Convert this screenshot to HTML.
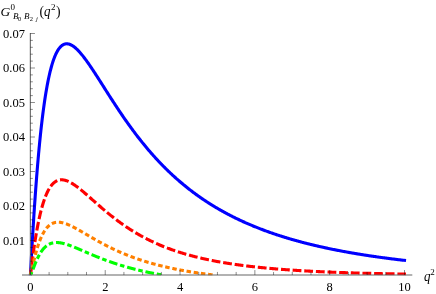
<!DOCTYPE html>
<html><head><meta charset="utf-8"><title>plot</title>
<style>
html,body{margin:0;padding:0;background:#fff;}
body{width:436px;height:294px;overflow:hidden;font-family:"Liberation Serif",serif;}
svg{display:block;}
text{font-family:"Liberation Serif",serif;fill:#000;}
.c{fill:none;stroke-width:3.1;stroke-linejoin:round;}
</style></head><body>
<svg width="436" height="294" viewBox="0 0 436 294">
<rect width="436" height="294" fill="#fff"/>
<defs><clipPath id="cp"><rect x="20" y="20" width="395" height="255.30"/></clipPath></defs>
<g clip-path="url(#cp)">
<path class="c" stroke="#0000ff" stroke-linecap="square" d="M30.40 275.00 L30.59 271.75 L30.78 268.35 L30.97 264.93 L31.16 261.51 L31.35 258.10 L31.54 254.72 L31.73 251.36 L31.92 248.03 L32.11 244.74 L32.30 241.47 L32.49 238.24 L32.68 235.05 L32.87 231.89 L33.06 228.77 L33.25 225.69 L33.44 222.64 L33.63 219.63 L33.82 216.66 L34.01 213.72 L34.20 210.82 L34.39 207.96 L34.58 205.14 L34.78 202.35 L34.97 199.60 L35.16 196.89 L35.35 194.21 L35.54 191.57 L35.73 188.96 L35.92 186.39 L36.11 183.85 L36.30 181.35 L36.49 178.88 L36.68 176.45 L36.87 174.05 L37.06 171.69 L37.25 169.35 L37.44 167.05 L37.63 164.79 L37.82 162.55 L38.01 160.35 L38.20 158.17 L38.39 156.03 L38.58 153.92 L38.77 151.84 L38.96 149.79 L39.15 147.77 L39.34 145.78 L39.53 143.82 L39.72 141.88 L39.91 139.98 L40.10 138.10 L40.29 136.26 L40.48 134.43 L40.67 132.64 L40.86 130.87 L41.05 129.13 L41.24 127.42 L41.43 125.73 L41.62 124.07 L42.23 118.94 L42.83 114.06 L43.44 109.41 L44.05 105.00 L44.65 100.81 L45.26 96.82 L45.86 93.05 L46.47 89.46 L47.08 86.07 L47.68 82.86 L48.29 79.82 L48.89 76.95 L49.50 74.24 L50.10 71.69 L50.71 69.28 L51.32 67.02 L51.92 64.90 L52.53 62.91 L53.13 61.04 L53.74 59.30 L54.34 57.67 L54.95 56.16 L55.56 54.75 L56.16 53.45 L56.77 52.25 L57.37 51.14 L57.98 50.13 L58.59 49.20 L59.19 48.37 L59.80 47.61 L60.40 46.93 L61.01 46.32 L61.61 45.79 L62.22 45.33 L62.83 44.93 L63.43 44.60 L64.04 44.33 L64.64 44.12 L65.25 43.96 L65.86 43.86 L66.46 43.81 L67.07 43.81 L67.67 43.86 L68.28 43.95 L68.88 44.09 L69.49 44.27 L70.10 44.49 L70.70 44.75 L71.31 45.04 L71.91 45.37 L72.52 45.74 L73.12 46.13 L73.73 46.56 L74.34 47.02 L74.94 47.50 L75.55 48.02 L76.15 48.56 L76.76 49.12 L77.37 49.71 L77.97 50.32 L78.58 50.95 L79.18 51.60 L79.79 52.27 L80.39 52.96 L81.00 53.67 L81.61 54.39 L82.21 55.13 L82.82 55.89 L83.42 56.66 L84.03 57.44 L84.64 58.24 L85.24 59.05 L85.85 59.87 L86.45 60.70 L87.06 61.54 L87.66 62.39 L88.27 63.25 L88.88 64.12 L89.48 65.00 L90.09 65.88 L90.69 66.78 L91.30 67.67 L91.90 68.58 L92.51 69.49 L93.12 70.41 L93.72 71.33 L94.33 72.25 L94.93 73.18 L95.54 74.11 L96.15 75.05 L96.75 75.99 L97.36 76.93 L97.96 77.88 L98.57 78.82 L99.17 79.77 L99.78 80.72 L100.39 81.68 L100.99 82.63 L101.60 83.58 L102.20 84.54 L102.81 85.49 L103.42 86.45 L104.02 87.40 L104.63 88.35 L105.23 89.31 L105.84 90.26 L106.44 91.21 L107.05 92.17 L107.66 93.12 L108.26 94.06 L108.87 95.01 L109.47 95.96 L110.08 96.90 L110.68 97.84 L111.29 98.79 L111.90 99.72 L112.50 100.66 L113.11 101.59 L113.71 102.52 L114.32 103.45 L114.93 104.38 L115.53 105.30 L116.14 106.22 L116.74 107.14 L117.35 108.05 L117.95 108.96 L118.56 109.87 L119.17 110.78 L119.77 111.68 L120.38 112.58 L120.98 113.47 L121.59 114.36 L122.20 115.25 L122.80 116.14 L123.41 117.02 L124.01 117.89 L124.62 118.77 L125.22 119.63 L125.83 120.50 L126.44 121.36 L127.04 122.22 L127.65 123.07 L128.25 123.92 L128.86 124.77 L129.46 125.61 L130.07 126.45 L130.68 127.28 L131.28 128.11 L131.89 128.94 L132.49 129.76 L133.10 130.58 L133.71 131.39 L134.31 132.20 L134.92 133.01 L135.52 133.81 L136.13 134.61 L136.73 135.40 L137.34 136.19 L137.95 136.97 L138.55 137.75 L139.16 138.53 L139.76 139.30 L140.37 140.07 L140.97 140.84 L141.58 141.59 L142.19 142.35 L142.79 143.10 L143.40 143.85 L144.00 144.59 L144.61 145.33 L145.22 146.07 L145.82 146.80 L146.43 147.52 L147.03 148.24 L147.64 148.96 L148.24 149.68 L148.85 150.39 L149.46 151.09 L150.06 151.79 L150.67 152.49 L151.27 153.19 L151.88 153.88 L152.49 154.56 L153.09 155.24 L153.70 155.92 L154.30 156.59 L154.91 157.26 L155.51 157.93 L156.12 158.59 L156.73 159.25 L157.33 159.90 L157.94 160.55 L158.54 161.20 L159.15 161.84 L159.75 162.48 L160.36 163.11 L160.97 163.74 L161.57 164.37 L162.18 164.99 L162.78 165.61 L163.39 166.23 L164.00 166.84 L164.60 167.45 L165.21 168.05 L165.81 168.66 L166.42 169.25 L167.02 169.85 L167.63 170.44 L168.24 171.02 L168.84 171.60 L169.45 172.18 L170.05 172.76 L170.66 173.33 L171.27 173.90 L171.87 174.47 L172.48 175.03 L173.08 175.59 L173.69 176.14 L174.29 176.69 L174.90 177.24 L175.51 177.78 L176.11 178.33 L176.72 178.86 L177.32 179.40 L177.93 179.93 L178.53 180.46 L179.14 180.98 L179.75 181.50 L180.35 182.02 L180.96 182.54 L181.56 183.05 L182.17 183.56 L182.78 184.06 L183.38 184.57 L183.99 185.07 L184.59 185.56 L185.20 186.06 L185.80 186.55 L186.41 187.03 L187.02 187.52 L187.62 188.00 L188.23 188.48 L188.83 188.95 L189.44 189.42 L190.05 189.89 L190.65 190.36 L191.26 190.82 L191.86 191.28 L192.47 191.74 L193.07 192.20 L193.68 192.65 L194.29 193.10 L194.89 193.55 L195.50 193.99 L196.10 194.43 L196.71 194.87 L197.31 195.31 L197.92 195.74 L198.53 196.17 L199.13 196.60 L199.74 197.02 L200.34 197.45 L200.95 197.87 L201.56 198.28 L202.16 198.70 L202.77 199.11 L203.37 199.52 L203.98 199.93 L204.58 200.33 L205.19 200.74 L205.80 201.14 L206.40 201.53 L207.01 201.93 L207.61 202.32 L208.22 202.71 L208.83 203.10 L209.43 203.48 L210.04 203.87 L210.64 204.25 L211.25 204.63 L211.85 205.00 L212.46 205.38 L213.07 205.75 L213.67 206.12 L214.28 206.48 L214.88 206.85 L215.49 207.21 L216.09 207.57 L216.70 207.93 L217.31 208.29 L217.91 208.64 L218.52 208.99 L219.12 209.34 L219.73 209.69 L220.34 210.04 L220.94 210.38 L221.55 210.72 L222.15 211.06 L222.76 211.40 L223.36 211.73 L223.97 212.07 L224.58 212.40 L225.18 212.73 L225.79 213.05 L226.39 213.38 L227.00 213.70 L227.61 214.02 L228.21 214.34 L228.82 214.66 L229.42 214.98 L230.03 215.29 L230.63 215.60 L231.24 215.91 L231.85 216.22 L232.45 216.53 L233.06 216.83 L233.66 217.14 L234.27 217.44 L234.87 217.74 L235.48 218.03 L236.09 218.33 L236.69 218.62 L237.30 218.92 L237.90 219.21 L238.51 219.50 L239.12 219.78 L239.72 220.07 L240.33 220.35 L240.93 220.64 L241.54 220.92 L242.14 221.20 L242.75 221.47 L243.36 221.75 L243.96 222.02 L244.57 222.29 L245.17 222.57 L245.78 222.83 L246.38 223.10 L246.99 223.37 L247.60 223.63 L248.20 223.90 L248.81 224.16 L249.41 224.42 L250.02 224.68 L250.63 224.93 L251.23 225.19 L251.84 225.44 L252.44 225.70 L253.05 225.95 L253.65 226.20 L254.26 226.45 L254.87 226.69 L255.47 226.94 L256.08 227.18 L256.68 227.42 L257.29 227.67 L257.90 227.91 L258.50 228.14 L259.11 228.38 L259.71 228.62 L260.32 228.85 L260.92 229.09 L261.53 229.32 L262.14 229.55 L262.74 229.78 L263.35 230.00 L263.95 230.23 L264.56 230.46 L265.16 230.68 L265.77 230.90 L266.38 231.13 L266.98 231.35 L267.59 231.56 L268.19 231.78 L268.80 232.00 L269.41 232.21 L270.01 232.43 L270.62 232.64 L271.22 232.85 L271.83 233.06 L272.43 233.27 L273.04 233.48 L273.65 233.69 L274.25 233.90 L274.86 234.10 L275.46 234.30 L276.07 234.51 L276.68 234.71 L277.28 234.91 L277.89 235.11 L278.49 235.31 L279.10 235.50 L279.70 235.70 L280.31 235.89 L280.92 236.09 L281.52 236.28 L282.13 236.47 L282.73 236.66 L283.34 236.85 L283.94 237.04 L284.55 237.23 L285.16 237.41 L285.76 237.60 L286.37 237.78 L286.97 237.97 L287.58 238.15 L288.19 238.33 L288.79 238.51 L289.40 238.69 L290.00 238.87 L290.61 239.05 L291.21 239.22 L291.82 239.40 L292.43 239.57 L293.03 239.75 L293.64 239.92 L294.24 240.09 L294.85 240.26 L295.46 240.43 L296.06 240.60 L296.67 240.77 L297.27 240.94 L297.88 241.10 L298.48 241.27 L299.09 241.43 L299.70 241.60 L300.30 241.76 L300.91 241.92 L301.51 242.08 L302.12 242.25 L302.72 242.40 L303.33 242.56 L303.94 242.72 L304.54 242.88 L305.15 243.03 L305.75 243.19 L306.36 243.34 L306.97 243.50 L307.57 243.65 L308.18 243.80 L308.78 243.95 L309.39 244.10 L309.99 244.25 L310.60 244.40 L311.21 244.55 L311.81 244.70 L312.42 244.84 L313.02 244.99 L313.63 245.13 L314.24 245.28 L314.84 245.42 L315.45 245.57 L316.05 245.71 L316.66 245.85 L317.26 245.99 L317.87 246.13 L318.48 246.27 L319.08 246.41 L319.69 246.54 L320.29 246.68 L320.90 246.82 L321.50 246.95 L322.11 247.09 L322.72 247.22 L323.32 247.36 L323.93 247.49 L324.53 247.62 L325.14 247.75 L325.75 247.88 L326.35 248.01 L326.96 248.14 L327.56 248.27 L328.17 248.40 L328.77 248.53 L329.38 248.65 L329.99 248.78 L330.59 248.90 L331.20 249.03 L331.80 249.15 L332.41 249.28 L333.02 249.40 L333.62 249.52 L334.23 249.64 L334.83 249.76 L335.44 249.89 L336.04 250.01 L336.65 250.12 L337.26 250.24 L337.86 250.36 L338.47 250.48 L339.07 250.60 L339.68 250.71 L340.28 250.83 L340.89 250.94 L341.50 251.06 L342.10 251.17 L342.71 251.28 L343.31 251.40 L343.92 251.51 L344.53 251.62 L345.13 251.73 L345.74 251.84 L346.34 251.95 L346.95 252.06 L347.55 252.17 L348.16 252.28 L348.77 252.39 L349.37 252.50 L349.98 252.60 L350.58 252.71 L351.19 252.82 L351.79 252.92 L352.40 253.03 L353.01 253.13 L353.61 253.23 L354.22 253.34 L354.82 253.44 L355.43 253.54 L356.04 253.64 L356.64 253.74 L357.25 253.85 L357.85 253.95 L358.46 254.05 L359.06 254.14 L359.67 254.24 L360.28 254.34 L360.88 254.44 L361.49 254.54 L362.09 254.63 L362.70 254.73 L363.31 254.83 L363.91 254.92 L364.52 255.02 L365.12 255.11 L365.73 255.21 L366.33 255.30 L366.94 255.39 L367.55 255.48 L368.15 255.58 L368.76 255.67 L369.36 255.76 L369.97 255.85 L370.57 255.94 L371.18 256.03 L371.79 256.12 L372.39 256.21 L373.00 256.30 L373.60 256.39 L374.21 256.48 L374.82 256.56 L375.42 256.65 L376.03 256.74 L376.63 256.82 L377.24 256.91 L377.84 257.00 L378.45 257.08 L379.06 257.17 L379.66 257.25 L380.27 257.33 L380.87 257.42 L381.48 257.50 L382.09 257.58 L382.69 257.67 L383.30 257.75 L383.90 257.83 L384.51 257.91 L385.11 257.99 L385.72 258.07 L386.33 258.15 L386.93 258.23 L387.54 258.31 L388.14 258.39 L388.75 258.47 L389.35 258.55 L389.96 258.62 L390.57 258.70 L391.17 258.78 L391.78 258.86 L392.38 258.93 L392.99 259.01 L393.60 259.08 L394.20 259.16 L394.81 259.23 L395.41 259.31 L396.02 259.38 L396.62 259.46 L397.23 259.53 L397.84 259.60 L398.44 259.68 L399.05 259.75 L399.65 259.82 L400.26 259.89 L400.87 259.97 L401.47 260.04 L402.08 260.11 L402.68 260.18 L403.29 260.25 L403.89 260.32 L404.50 260.39"/>
<path class="c" stroke="#ff0000" stroke-dasharray="8.8 2.85" stroke-dashoffset="1.63" d="M30.40 275.00 L30.59 273.59 L30.78 272.10 L30.97 270.60 L31.16 269.08 L31.35 267.57 L31.54 266.07 L31.73 264.57 L31.92 263.09 L32.11 261.62 L32.30 260.17 L32.49 258.73 L32.68 257.30 L32.87 255.89 L33.06 254.50 L33.25 253.12 L33.44 251.76 L33.63 250.42 L33.82 249.10 L34.01 247.79 L34.20 246.50 L34.39 245.22 L34.58 243.96 L34.78 242.72 L34.97 241.50 L35.16 240.29 L35.35 239.11 L35.54 237.93 L35.73 236.78 L35.92 235.64 L36.11 234.51 L36.30 233.41 L36.49 232.32 L36.68 231.24 L36.87 230.18 L37.06 229.14 L37.25 228.11 L37.44 227.10 L37.63 226.10 L37.82 225.12 L38.01 224.16 L38.20 223.20 L38.39 222.27 L38.58 221.35 L38.77 220.44 L38.96 219.54 L39.15 218.67 L39.34 217.80 L39.53 216.95 L39.72 216.11 L39.91 215.29 L40.10 214.48 L40.29 213.68 L40.48 212.90 L40.67 212.12 L40.86 211.37 L41.05 210.62 L41.24 209.89 L41.43 209.17 L41.62 208.46 L42.23 206.28 L42.83 204.22 L43.44 202.28 L44.05 200.44 L44.65 198.71 L45.26 197.08 L45.86 195.55 L46.47 194.11 L47.08 192.76 L47.68 191.50 L48.29 190.32 L48.89 189.22 L49.50 188.20 L50.10 187.25 L50.71 186.37 L51.32 185.56 L51.92 184.81 L52.53 184.13 L53.13 183.50 L53.74 182.94 L54.34 182.42 L54.95 181.96 L55.56 181.55 L56.16 181.19 L56.77 180.88 L57.37 180.60 L57.98 180.37 L58.59 180.18 L59.19 180.03 L59.80 179.92 L60.40 179.84 L61.01 179.80 L61.61 179.79 L62.22 179.80 L62.83 179.85 L63.43 179.93 L64.04 180.03 L64.64 180.16 L65.25 180.31 L65.86 180.49 L66.46 180.69 L67.07 180.91 L67.67 181.15 L68.28 181.41 L68.88 181.69 L69.49 181.98 L70.10 182.29 L70.70 182.62 L71.31 182.96 L71.91 183.32 L72.52 183.69 L73.12 184.07 L73.73 184.46 L74.34 184.87 L74.94 185.28 L75.55 185.71 L76.15 186.14 L76.76 186.58 L77.37 187.04 L77.97 187.50 L78.58 187.96 L79.18 188.44 L79.79 188.92 L80.39 189.40 L81.00 189.90 L81.61 190.39 L82.21 190.90 L82.82 191.40 L83.42 191.91 L84.03 192.43 L84.64 192.94 L85.24 193.46 L85.85 193.99 L86.45 194.51 L87.06 195.04 L87.66 195.57 L88.27 196.10 L88.88 196.63 L89.48 197.17 L90.09 197.70 L90.69 198.24 L91.30 198.77 L91.90 199.31 L92.51 199.85 L93.12 200.38 L93.72 200.92 L94.33 201.45 L94.93 201.99 L95.54 202.52 L96.15 203.06 L96.75 203.59 L97.36 204.12 L97.96 204.65 L98.57 205.18 L99.17 205.71 L99.78 206.24 L100.39 206.76 L100.99 207.28 L101.60 207.81 L102.20 208.33 L102.81 208.84 L103.42 209.36 L104.02 209.87 L104.63 210.38 L105.23 210.89 L105.84 211.40 L106.44 211.90 L107.05 212.40 L107.66 212.90 L108.26 213.40 L108.87 213.89 L109.47 214.38 L110.08 214.87 L110.68 215.35 L111.29 215.84 L111.90 216.32 L112.50 216.79 L113.11 217.27 L113.71 217.74 L114.32 218.21 L114.93 218.67 L115.53 219.14 L116.14 219.60 L116.74 220.05 L117.35 220.51 L117.95 220.96 L118.56 221.40 L119.17 221.85 L119.77 222.29 L120.38 222.73 L120.98 223.16 L121.59 223.60 L122.20 224.03 L122.80 224.45 L123.41 224.87 L124.01 225.29 L124.62 225.71 L125.22 226.12 L125.83 226.54 L126.44 226.94 L127.04 227.35 L127.65 227.75 L128.25 228.15 L128.86 228.54 L129.46 228.93 L130.07 229.32 L130.68 229.71 L131.28 230.09 L131.89 230.47 L132.49 230.85 L133.10 231.22 L133.71 231.60 L134.31 231.96 L134.92 232.33 L135.52 232.69 L136.13 233.05 L136.73 233.41 L137.34 233.76 L137.95 234.11 L138.55 234.46 L139.16 234.81 L139.76 235.15 L140.37 235.49 L140.97 235.82 L141.58 236.16 L142.19 236.49 L142.79 236.82 L143.40 237.14 L144.00 237.46 L144.61 237.78 L145.22 238.10 L145.82 238.42 L146.43 238.73 L147.03 239.04 L147.64 239.35 L148.24 239.65 L148.85 239.95 L149.46 240.25 L150.06 240.55 L150.67 240.84 L151.27 241.13 L151.88 241.42 L152.49 241.71 L153.09 241.99 L153.70 242.27 L154.30 242.55 L154.91 242.83 L155.51 243.10 L156.12 243.37 L156.73 243.64 L157.33 243.91 L157.94 244.18 L158.54 244.44 L159.15 244.70 L159.75 244.96 L160.36 245.21 L160.97 245.47 L161.57 245.72 L162.18 245.97 L162.78 246.21 L163.39 246.46 L164.00 246.70 L164.60 246.94 L165.21 247.18 L165.81 247.42 L166.42 247.65 L167.02 247.88 L167.63 248.12 L168.24 248.34 L168.84 248.57 L169.45 248.79 L170.05 249.02 L170.66 249.24 L171.27 249.46 L171.87 249.67 L172.48 249.89 L173.08 250.10 L173.69 250.31 L174.29 250.52 L174.90 250.73 L175.51 250.93 L176.11 251.14 L176.72 251.34 L177.32 251.54 L177.93 251.74 L178.53 251.93 L179.14 252.13 L179.75 252.32 L180.35 252.51 L180.96 252.70 L181.56 252.89 L182.17 253.07 L182.78 253.26 L183.38 253.44 L183.99 253.62 L184.59 253.80 L185.20 253.98 L185.80 254.16 L186.41 254.33 L187.02 254.51 L187.62 254.68 L188.23 254.85 L188.83 255.02 L189.44 255.19 L190.05 255.35 L190.65 255.52 L191.26 255.68 L191.86 255.84 L192.47 256.00 L193.07 256.16 L193.68 256.32 L194.29 256.48 L194.89 256.63 L195.50 256.79 L196.10 256.94 L196.71 257.09 L197.31 257.24 L197.92 257.39 L198.53 257.53 L199.13 257.68 L199.74 257.82 L200.34 257.97 L200.95 258.11 L201.56 258.25 L202.16 258.39 L202.77 258.53 L203.37 258.66 L203.98 258.80 L204.58 258.94 L205.19 259.07 L205.80 259.20 L206.40 259.33 L207.01 259.46 L207.61 259.59 L208.22 259.72 L208.83 259.85 L209.43 259.97 L210.04 260.10 L210.64 260.22 L211.25 260.34 L211.85 260.46 L212.46 260.58 L213.07 260.70 L213.67 260.82 L214.28 260.94 L214.88 261.06 L215.49 261.17 L216.09 261.28 L216.70 261.40 L217.31 261.51 L217.91 261.62 L218.52 261.73 L219.12 261.84 L219.73 261.95 L220.34 262.06 L220.94 262.16 L221.55 262.27 L222.15 262.37 L222.76 262.48 L223.36 262.58 L223.97 262.68 L224.58 262.79 L225.18 262.89 L225.79 262.99 L226.39 263.08 L227.00 263.18 L227.61 263.28 L228.21 263.38 L228.82 263.47 L229.42 263.57 L230.03 263.66 L230.63 263.75 L231.24 263.84 L231.85 263.94 L232.45 264.03 L233.06 264.12 L233.66 264.21 L234.27 264.29 L234.87 264.38 L235.48 264.47 L236.09 264.56 L236.69 264.64 L237.30 264.73 L237.90 264.81 L238.51 264.89 L239.12 264.98 L239.72 265.06 L240.33 265.14 L240.93 265.22 L241.54 265.30 L242.14 265.38 L242.75 265.46 L243.36 265.54 L243.96 265.61 L244.57 265.69 L245.17 265.77 L245.78 265.84 L246.38 265.92 L246.99 265.99 L247.60 266.06 L248.20 266.14 L248.81 266.21 L249.41 266.28 L250.02 266.35 L250.63 266.42 L251.23 266.49 L251.84 266.56 L252.44 266.63 L253.05 266.70 L253.65 266.77 L254.26 266.83 L254.87 266.90 L255.47 266.97 L256.08 267.03 L256.68 267.10 L257.29 267.16 L257.90 267.22 L258.50 267.29 L259.11 267.35 L259.71 267.41 L260.32 267.47 L260.92 267.54 L261.53 267.60 L262.14 267.66 L262.74 267.72 L263.35 267.78 L263.95 267.83 L264.56 267.89 L265.16 267.95 L265.77 268.01 L266.38 268.07 L266.98 268.12 L267.59 268.18 L268.19 268.23 L268.80 268.29 L269.41 268.34 L270.01 268.40 L270.62 268.45 L271.22 268.50 L271.83 268.56 L272.43 268.61 L273.04 268.66 L273.65 268.71 L274.25 268.77 L274.86 268.82 L275.46 268.87 L276.07 268.92 L276.68 268.97 L277.28 269.02 L277.89 269.06 L278.49 269.11 L279.10 269.16 L279.70 269.21 L280.31 269.26 L280.92 269.30 L281.52 269.35 L282.13 269.40 L282.73 269.44 L283.34 269.49 L283.94 269.53 L284.55 269.58 L285.16 269.62 L285.76 269.67 L286.37 269.71 L286.97 269.75 L287.58 269.79 L288.19 269.84 L288.79 269.88 L289.40 269.92 L290.00 269.96 L290.61 270.00 L291.21 270.05 L291.82 270.09 L292.43 270.13 L293.03 270.17 L293.64 270.21 L294.24 270.25 L294.85 270.29 L295.46 270.32 L296.06 270.36 L296.67 270.40 L297.27 270.44 L297.88 270.48 L298.48 270.51 L299.09 270.55 L299.70 270.59 L300.30 270.62 L300.91 270.66 L301.51 270.70 L302.12 270.73 L302.72 270.77 L303.33 270.80 L303.94 270.84 L304.54 270.87 L305.15 270.90 L305.75 270.94 L306.36 270.97 L306.97 271.01 L307.57 271.04 L308.18 271.07 L308.78 271.10 L309.39 271.14 L309.99 271.17 L310.60 271.20 L311.21 271.23 L311.81 271.26 L312.42 271.29 L313.02 271.33 L313.63 271.36 L314.24 271.39 L314.84 271.42 L315.45 271.45 L316.05 271.48 L316.66 271.51 L317.26 271.54 L317.87 271.56 L318.48 271.59 L319.08 271.62 L319.69 271.65 L320.29 271.68 L320.90 271.71 L321.50 271.73 L322.11 271.76 L322.72 271.79 L323.32 271.82 L323.93 271.84 L324.53 271.87 L325.14 271.90 L325.75 271.92 L326.35 271.95 L326.96 271.98 L327.56 272.00 L328.17 272.03 L328.77 272.05 L329.38 272.08 L329.99 272.10 L330.59 272.13 L331.20 272.15 L331.80 272.18 L332.41 272.20 L333.02 272.22 L333.62 272.25 L334.23 272.27 L334.83 272.29 L335.44 272.32 L336.04 272.34 L336.65 272.36 L337.26 272.39 L337.86 272.41 L338.47 272.43 L339.07 272.45 L339.68 272.48 L340.28 272.50 L340.89 272.52 L341.50 272.54 L342.10 272.56 L342.71 272.58 L343.31 272.61 L343.92 272.63 L344.53 272.65 L345.13 272.67 L345.74 272.69 L346.34 272.71 L346.95 272.73 L347.55 272.75 L348.16 272.77 L348.77 272.79 L349.37 272.81 L349.98 272.83 L350.58 272.85 L351.19 272.87 L351.79 272.88 L352.40 272.90 L353.01 272.92 L353.61 272.94 L354.22 272.96 L354.82 272.98 L355.43 273.00 L356.04 273.01 L356.64 273.03 L357.25 273.05 L357.85 273.07 L358.46 273.08 L359.06 273.10 L359.67 273.12 L360.28 273.14 L360.88 273.15 L361.49 273.17 L362.09 273.19 L362.70 273.20 L363.31 273.22 L363.91 273.24 L364.52 273.25 L365.12 273.27 L365.73 273.29 L366.33 273.30 L366.94 273.32 L367.55 273.33 L368.15 273.35 L368.76 273.36 L369.36 273.38 L369.97 273.39 L370.57 273.41 L371.18 273.42 L371.79 273.44 L372.39 273.45 L373.00 273.47 L373.60 273.48 L374.21 273.50 L374.82 273.51 L375.42 273.53 L376.03 273.54 L376.63 273.55 L377.24 273.57 L377.84 273.58 L378.45 273.60 L379.06 273.61 L379.66 273.62 L380.27 273.64 L380.87 273.65 L381.48 273.66 L382.09 273.68 L382.69 273.69 L383.30 273.70 L383.90 273.72 L384.51 273.73 L385.11 273.74 L385.72 273.75 L386.33 273.77 L386.93 273.78 L387.54 273.79 L388.14 273.80 L388.75 273.81 L389.35 273.83 L389.96 273.84 L390.57 273.85 L391.17 273.86 L391.78 273.87 L392.38 273.89 L392.99 273.90 L393.60 273.91 L394.20 273.92 L394.81 273.93 L395.41 273.94 L396.02 273.95 L396.62 273.96 L397.23 273.98 L397.84 273.99 L398.44 274.00 L399.05 274.01 L399.65 274.02 L400.26 274.03 L400.87 274.04 L401.47 274.05 L402.08 274.06 L402.68 274.07 L403.29 274.08 L403.89 274.09 L404.50 274.10 L406.00 274.13"/>
<path class="c" stroke="#ff8000" stroke-dasharray="4.5 2.75" stroke-dashoffset="1.11" d="M30.40 275.00 L30.59 274.47 L30.78 273.80 L30.97 273.06 L31.16 272.29 L31.35 271.50 L31.54 270.69 L31.73 269.88 L31.92 269.05 L32.11 268.22 L32.30 267.39 L32.49 266.56 L32.68 265.74 L32.87 264.91 L33.06 264.09 L33.25 263.28 L33.44 262.47 L33.63 261.67 L33.82 260.88 L34.01 260.09 L34.20 259.31 L34.39 258.54 L34.58 257.78 L34.78 257.03 L34.97 256.28 L35.16 255.55 L35.35 254.83 L35.54 254.11 L35.73 253.41 L35.92 252.71 L36.11 252.03 L36.30 251.35 L36.49 250.69 L36.68 250.03 L36.87 249.38 L37.06 248.75 L37.25 248.12 L37.44 247.51 L37.63 246.90 L37.82 246.31 L38.01 245.72 L38.20 245.14 L38.39 244.57 L38.58 244.02 L38.77 243.47 L38.96 242.93 L39.15 242.40 L39.34 241.88 L39.53 241.37 L39.72 240.87 L39.91 240.38 L40.10 239.89 L40.29 239.42 L40.48 238.95 L40.67 238.50 L40.86 238.05 L41.05 237.61 L41.24 237.18 L41.43 236.75 L41.62 236.34 L41.91 235.73 L42.20 235.14 L42.48 234.56 L42.77 234.00 L43.06 233.46 L43.35 232.94 L43.63 232.43 L43.92 231.94 L44.21 231.47 L44.49 231.01 L44.78 230.57 L45.07 230.14 L45.36 229.73 L45.64 229.33 L45.93 228.94 L46.22 228.57 L46.50 228.21 L46.79 227.87 L47.08 227.54 L47.37 227.22 L47.65 226.91 L47.94 226.62 L48.23 226.33 L48.51 226.06 L48.80 225.80 L49.09 225.56 L49.38 225.32 L49.66 225.09 L49.95 224.88 L50.24 224.67 L50.52 224.47 L50.81 224.29 L51.10 224.11 L51.39 223.94 L51.67 223.78 L51.96 223.63 L52.25 223.49 L52.53 223.36 L52.82 223.24 L53.11 223.12 L53.40 223.01 L53.68 222.91 L53.97 222.82 L54.26 222.73 L54.54 222.65 L54.83 222.58 L55.12 222.52 L55.41 222.46 L55.69 222.41 L55.98 222.36 L56.27 222.33 L56.55 222.29 L56.84 222.27 L57.13 222.24 L57.42 222.23 L57.70 222.22 L57.99 222.21 L58.28 222.22 L58.56 222.22 L58.85 222.23 L59.14 222.25 L59.43 222.27 L59.71 222.29 L60.00 222.32 L60.29 222.36 L60.57 222.40 L60.86 222.44 L61.15 222.48 L61.44 222.53 L61.72 222.59 L62.01 222.65 L62.30 222.71 L62.58 222.77 L62.87 222.84 L63.16 222.91 L63.45 222.99 L63.73 223.07 L64.02 223.15 L64.31 223.24 L64.59 223.32 L64.88 223.41 L65.17 223.51 L65.46 223.60 L65.74 223.70 L66.03 223.80 L66.32 223.91 L66.60 224.01 L66.89 224.12 L67.18 224.23 L67.47 224.35 L67.75 224.46 L68.04 224.58 L68.33 224.70 L68.61 224.82 L68.90 224.95 L69.19 225.07 L69.48 225.20 L69.76 225.33 L70.05 225.46 L70.34 225.59 L70.62 225.72 L70.91 225.86 L71.20 226.00 L71.49 226.14 L71.77 226.28 L72.06 226.42 L72.35 226.56 L72.63 226.70 L72.92 226.85 L73.21 226.99 L73.50 227.14 L73.78 227.29 L74.07 227.44 L74.36 227.59 L74.64 227.74 L74.93 227.90 L75.22 228.05 L75.51 228.20 L75.79 228.36 L76.08 228.51 L76.37 228.67 L76.66 228.83 L76.94 228.99 L77.23 229.15 L77.52 229.31 L77.80 229.47 L78.09 229.63 L78.38 229.79 L78.67 229.95 L78.95 230.11 L79.24 230.28 L79.53 230.44 L79.81 230.60 L80.10 230.77 L80.39 230.93 L80.68 231.10 L80.96 231.26 L81.25 231.43 L81.54 231.59 L81.82 231.76 L82.11 231.93 L82.40 232.09 L82.69 232.26 L82.97 232.43 L83.26 232.60 L83.55 232.76 L83.83 232.93 L84.12 233.10 L84.41 233.27 L84.70 233.44 L84.98 233.60 L85.27 233.77 L85.56 233.94 L85.84 234.11 L86.13 234.28 L86.42 234.45 L86.71 234.61 L86.99 234.78 L87.28 234.95 L87.57 235.12 L87.85 235.29 L88.14 235.46 L88.43 235.62 L88.72 235.79 L89.00 235.96 L89.29 236.13 L89.58 236.30 L89.86 236.46 L90.15 236.63 L90.44 236.80 L90.73 236.96 L91.01 237.13 L91.30 237.30 L91.59 237.46 L91.87 237.63 L92.16 237.80 L92.45 237.96 L92.74 238.13 L93.02 238.29 L93.31 238.46 L93.60 238.62 L93.88 238.79 L94.17 238.95 L94.46 239.11 L94.75 239.28 L95.03 239.44 L95.32 239.60 L95.61 239.77 L95.89 239.93 L96.18 240.09 L96.47 240.25 L96.76 240.41 L97.04 240.58 L97.33 240.74 L97.62 240.90 L97.90 241.06 L98.19 241.22 L98.48 241.37 L98.77 241.53 L99.05 241.69 L99.34 241.85 L99.63 242.01 L99.91 242.17 L100.20 242.32 L100.49 242.48 L100.78 242.64 L101.06 242.79 L101.35 242.95 L101.64 243.10 L101.92 243.26 L102.21 243.41 L102.50 243.56 L102.79 243.72 L103.07 243.87 L103.36 244.02 L103.65 244.17 L103.93 244.33 L104.22 244.48 L104.51 244.63 L104.80 244.78 L105.08 244.93 L105.37 245.08 L105.66 245.23 L105.94 245.38 L106.23 245.52 L106.52 245.67 L106.81 245.82 L107.09 245.97 L107.38 246.11 L107.67 246.26 L107.95 246.40 L108.24 246.55 L108.53 246.69 L108.82 246.84 L109.10 246.98 L109.39 247.12 L109.68 247.27 L109.96 247.41 L110.25 247.55 L110.54 247.69 L110.83 247.83 L111.11 247.97 L111.40 248.11 L111.69 248.25 L111.97 248.39 L112.26 248.53 L112.55 248.67 L112.84 248.80 L113.12 248.94 L113.41 249.08 L113.70 249.21 L113.98 249.35 L114.27 249.48 L114.56 249.62 L114.85 249.75 L115.13 249.89 L115.42 250.02 L115.71 250.15 L115.99 250.29 L116.28 250.42 L116.57 250.55 L116.86 250.68 L117.14 250.81 L117.43 250.94 L117.72 251.07 L118.00 251.20 L118.29 251.33 L118.58 251.46 L118.87 251.58 L119.15 251.71 L119.44 251.84 L119.73 251.96 L120.01 252.09 L120.30 252.21 L120.59 252.34 L120.88 252.46 L121.16 252.59 L121.45 252.71 L121.74 252.83 L122.02 252.96 L122.31 253.08 L122.60 253.20 L122.89 253.32 L123.17 253.44 L123.46 253.56 L123.75 253.68 L124.03 253.80 L124.32 253.92 L124.61 254.04 L124.90 254.16 L125.18 254.28 L125.47 254.39 L125.76 254.51 L126.04 254.63 L126.33 254.74 L126.62 254.86 L126.91 254.97 L127.19 255.09 L127.48 255.20 L127.77 255.31 L128.05 255.43 L128.34 255.54 L128.63 255.65 L128.92 255.76 L129.20 255.88 L129.49 255.99 L129.78 256.10 L130.06 256.21 L130.35 256.32 L130.64 256.43 L130.93 256.54 L131.21 256.64 L131.50 256.75 L131.79 256.86 L132.07 256.97 L132.36 257.07 L132.65 257.18 L132.94 257.29 L133.22 257.39 L133.51 257.50 L133.80 257.60 L134.08 257.70 L134.37 257.81 L134.66 257.91 L134.95 258.01 L135.23 258.12 L135.52 258.22 L135.81 258.32 L136.09 258.42 L136.38 258.52 L136.67 258.62 L136.96 258.72 L137.24 258.82 L137.53 258.92 L137.82 259.02 L138.10 259.12 L138.39 259.22 L138.68 259.32 L138.97 259.41 L139.25 259.51 L139.54 259.61 L139.83 259.70 L140.11 259.80 L140.40 259.90 L140.69 259.99 L140.98 260.09 L141.26 260.18 L141.55 260.27 L141.84 260.37 L142.12 260.46 L142.41 260.55 L142.70 260.65 L142.99 260.74 L143.27 260.83 L143.56 260.92 L143.85 261.01 L144.13 261.10 L144.42 261.19 L144.71 261.28 L145.00 261.37 L145.28 261.46 L145.57 261.55 L145.86 261.64 L146.14 261.73 L146.43 261.81 L146.72 261.90 L147.01 261.99 L147.29 262.07 L147.58 262.16 L147.87 262.25 L148.15 262.33 L148.44 262.42 L148.73 262.50 L149.02 262.59 L149.30 262.67 L149.59 262.75 L149.88 262.84 L150.16 262.92 L150.45 263.00 L150.74 263.09 L151.03 263.17 L151.31 263.25 L151.60 263.33 L151.89 263.41 L152.17 263.49 L152.46 263.57 L152.75 263.65 L153.04 263.73 L153.32 263.81 L153.61 263.89 L153.90 263.97 L154.18 264.05 L154.47 264.13 L154.76 264.21 L155.05 264.28 L155.33 264.36 L155.62 264.44 L155.91 264.51 L156.19 264.59 L156.48 264.67 L156.77 264.74 L157.06 264.82 L157.34 264.89 L157.63 264.97 L157.92 265.04 L158.20 265.12 L158.49 265.19 L158.78 265.26 L159.07 265.34 L159.35 265.41 L159.64 265.48 L159.93 265.55 L160.21 265.63 L160.50 265.70 L160.79 265.77 L161.08 265.84 L161.36 265.91 L161.65 265.98 L161.94 266.05 L162.22 266.12 L162.51 266.19 L162.80 266.26 L163.09 266.33 L163.37 266.40 L163.66 266.47 L163.95 266.54 L164.24 266.60 L164.52 266.67 L164.81 266.74 L165.10 266.81 L165.38 266.87 L165.67 266.94 L165.96 267.01 L166.25 267.07 L166.53 267.14 L166.82 267.20 L167.11 267.27 L167.39 267.33 L167.68 267.40 L167.97 267.46 L168.26 267.53 L168.54 267.59 L168.83 267.65 L169.12 267.72 L169.40 267.78 L169.69 267.84 L169.98 267.91 L170.27 267.97 L170.55 268.03 L170.84 268.09 L171.13 268.15 L171.41 268.22 L171.70 268.28 L171.99 268.34 L172.28 268.40 L172.56 268.46 L172.85 268.52 L173.14 268.58 L173.42 268.64 L173.71 268.70 L174.00 268.76 L174.29 268.82 L174.57 268.88 L174.86 268.93 L175.15 268.99 L175.43 269.05 L175.72 269.11 L176.01 269.17 L176.30 269.22 L176.58 269.28 L176.87 269.34 L177.16 269.39 L177.44 269.45 L177.73 269.51 L178.02 269.56 L178.31 269.62 L178.59 269.67 L178.88 269.73 L179.17 269.78 L179.45 269.84 L179.74 269.89 L180.03 269.95 L180.32 270.00 L180.60 270.05 L180.89 270.11 L181.18 270.16 L181.46 270.21 L181.75 270.27 L182.04 270.32 L182.33 270.37 L182.61 270.43 L182.90 270.48 L183.19 270.53 L183.47 270.58 L183.76 270.63 L184.05 270.68 L184.34 270.74 L184.62 270.79 L184.91 270.84 L185.20 270.89 L185.48 270.94 L185.77 270.99 L186.06 271.04 L186.35 271.09 L186.63 271.14 L186.92 271.19 L187.21 271.23 L187.49 271.28 L187.78 271.33 L188.07 271.38 L188.36 271.43 L188.64 271.48 L188.93 271.53 L189.22 271.57 L189.50 271.62 L189.79 271.67 L190.08 271.71 L190.37 271.76 L190.65 271.81 L190.94 271.86 L191.23 271.90 L191.51 271.95 L191.80 271.99 L192.09 272.04 L192.38 272.09 L192.66 272.13 L192.95 272.18 L193.24 272.22 L193.52 272.27 L193.81 272.31 L194.10 272.35 L194.39 272.40 L194.67 272.44 L194.96 272.49 L195.25 272.53 L195.53 272.57 L195.82 272.62 L196.11 272.66 L196.40 272.70 L196.68 272.75 L196.97 272.79 L197.26 272.83 L197.54 272.88 L197.83 272.92 L198.12 272.96 L198.41 273.00 L198.69 273.04 L198.98 273.09 L199.27 273.13 L199.55 273.17 L199.84 273.21 L200.13 273.25 L200.42 273.29 L200.70 273.33 L200.99 273.37 L201.28 273.41 L201.56 273.45 L201.85 273.49 L202.14 273.53 L202.43 273.57 L202.71 273.61 L203.00 273.65 L203.29 273.69 L203.57 273.73 L203.86 273.77 L204.15 273.81 L204.44 273.84 L204.72 273.88 L205.01 273.92 L205.30 273.96 L205.58 274.00 L205.87 274.03 L206.16 274.07 L206.45 274.11 L206.73 274.15 L207.02 274.18 L207.31 274.22 L207.59 274.26 L207.88 274.30 L208.17 274.33 L208.46 274.37 L208.74 274.40 L209.03 274.44 L209.32 274.48 L209.60 274.51 L209.89 274.55 L210.18 274.58 L210.47 274.62 L210.75 274.65 L211.04 274.69 L211.33 274.72 L211.61 274.76 L211.90 274.79 L212.19 274.83 L212.48 274.86 L212.76 274.90 L213.05 274.93 L213.34 274.97 L213.62 275.00 L215.11 275.18"/>
<path class="c" stroke="#00ff00" stroke-dasharray="4.5 2.84 8.7 2.84" stroke-dashoffset="1.2" d="M30.40 275.00 L30.59 274.80 L30.78 274.51 L30.97 274.15 L31.16 273.77 L31.35 273.35 L31.54 272.92 L31.73 272.46 L31.92 272.00 L32.11 271.53 L32.30 271.05 L32.49 270.56 L32.68 270.07 L32.87 269.57 L33.06 269.08 L33.25 268.58 L33.44 268.09 L33.63 267.59 L33.82 267.10 L34.01 266.60 L34.20 266.12 L34.39 265.63 L34.58 265.15 L34.78 264.67 L34.97 264.19 L35.16 263.72 L35.35 263.26 L35.54 262.80 L35.73 262.34 L35.92 261.89 L36.11 261.45 L36.30 261.01 L36.49 260.58 L36.68 260.15 L36.87 259.73 L37.06 259.31 L37.25 258.90 L37.44 258.50 L37.63 258.10 L37.82 257.71 L38.01 257.32 L38.20 256.94 L38.39 256.57 L38.58 256.20 L38.77 255.84 L38.96 255.49 L39.15 255.14 L39.34 254.80 L39.53 254.46 L39.72 254.13 L39.91 253.81 L40.10 253.49 L40.29 253.18 L40.48 252.87 L40.67 252.57 L40.86 252.27 L41.05 251.98 L41.24 251.70 L41.43 251.42 L41.62 251.15 L41.82 250.87 L42.03 250.59 L42.23 250.32 L42.43 250.05 L42.63 249.80 L42.83 249.54 L43.03 249.30 L43.24 249.06 L43.44 248.82 L43.64 248.59 L43.84 248.37 L44.04 248.15 L44.24 247.93 L44.45 247.73 L44.65 247.52 L44.85 247.33 L45.05 247.13 L45.25 246.95 L45.45 246.76 L45.66 246.59 L45.86 246.41 L46.06 246.24 L46.26 246.08 L46.46 245.92 L46.66 245.77 L46.87 245.62 L47.07 245.47 L47.27 245.33 L47.47 245.20 L47.67 245.06 L47.87 244.93 L48.08 244.81 L48.28 244.69 L48.48 244.57 L48.68 244.46 L48.88 244.35 L49.08 244.25 L49.28 244.15 L49.49 244.05 L49.69 243.96 L49.89 243.87 L50.09 243.78 L50.29 243.70 L50.49 243.62 L50.70 243.54 L50.90 243.47 L51.10 243.40 L51.30 243.33 L51.50 243.27 L51.70 243.20 L51.91 243.15 L52.11 243.09 L52.31 243.04 L52.51 242.99 L52.71 242.94 L52.91 242.90 L53.12 242.86 L53.32 242.82 L53.52 242.79 L53.72 242.75 L53.92 242.72 L54.12 242.70 L54.33 242.67 L54.53 242.65 L54.73 242.63 L54.93 242.61 L55.13 242.59 L55.33 242.58 L55.54 242.57 L55.74 242.56 L55.94 242.55 L56.14 242.54 L56.34 242.54 L56.54 242.54 L56.75 242.54 L56.95 242.54 L57.15 242.55 L57.35 242.55 L57.55 242.56 L57.75 242.57 L57.95 242.58 L58.16 242.60 L58.36 242.61 L58.56 242.63 L58.76 242.65 L58.96 242.67 L59.16 242.69 L59.37 242.71 L59.57 242.74 L59.77 242.76 L59.97 242.79 L60.17 242.82 L60.37 242.85 L60.58 242.88 L60.78 242.92 L60.98 242.95 L61.18 242.99 L61.38 243.03 L61.58 243.06 L61.79 243.10 L61.99 243.14 L62.19 243.19 L62.39 243.23 L62.59 243.27 L62.79 243.32 L63.00 243.37 L63.20 243.41 L63.40 243.46 L63.60 243.51 L63.80 243.56 L64.00 243.62 L64.21 243.67 L64.41 243.72 L64.61 243.78 L64.81 243.83 L65.01 243.89 L65.21 243.95 L65.42 244.01 L65.62 244.06 L65.82 244.12 L66.02 244.18 L66.22 244.25 L66.42 244.31 L66.62 244.37 L66.83 244.44 L67.03 244.50 L67.23 244.56 L67.43 244.63 L67.63 244.70 L67.83 244.76 L68.04 244.83 L68.24 244.90 L68.44 244.97 L68.64 245.04 L68.84 245.11 L69.04 245.18 L69.25 245.25 L69.45 245.32 L69.65 245.40 L69.85 245.47 L70.05 245.54 L70.25 245.62 L70.46 245.69 L70.66 245.77 L70.86 245.84 L71.06 245.92 L71.26 245.99 L71.46 246.07 L71.67 246.15 L71.87 246.22 L72.07 246.30 L72.27 246.38 L72.47 246.46 L72.67 246.54 L72.88 246.62 L73.08 246.70 L73.28 246.78 L73.48 246.86 L73.68 246.94 L73.88 247.02 L74.09 247.10 L74.29 247.18 L74.49 247.26 L74.69 247.35 L74.89 247.43 L75.09 247.51 L75.30 247.59 L75.50 247.68 L75.70 247.76 L75.90 247.84 L76.10 247.93 L76.30 248.01 L76.50 248.09 L76.71 248.18 L76.91 248.26 L77.11 248.35 L77.31 248.43 L77.51 248.52 L77.71 248.60 L77.92 248.69 L78.12 248.77 L78.32 248.86 L78.52 248.95 L78.72 249.03 L78.92 249.12 L79.13 249.20 L79.33 249.29 L79.53 249.38 L79.73 249.46 L79.93 249.55 L80.13 249.64 L80.34 249.72 L80.54 249.81 L80.74 249.90 L80.94 249.98 L81.14 250.07 L81.34 250.16 L81.55 250.24 L81.75 250.33 L81.95 250.42 L82.15 250.50 L82.35 250.59 L82.55 250.68 L82.76 250.77 L82.96 250.85 L83.16 250.94 L83.36 251.03 L83.56 251.12 L83.76 251.20 L83.97 251.29 L84.17 251.38 L84.37 251.46 L84.57 251.55 L84.77 251.64 L84.97 251.73 L85.17 251.81 L85.38 251.90 L85.58 251.99 L85.78 252.08 L85.98 252.16 L86.18 252.25 L86.38 252.34 L86.59 252.42 L86.79 252.51 L86.99 252.60 L87.19 252.68 L87.39 252.77 L87.59 252.86 L87.80 252.94 L88.00 253.03 L88.20 253.12 L88.40 253.20 L88.60 253.29 L88.80 253.38 L89.01 253.46 L89.21 253.55 L89.41 253.63 L89.61 253.72 L89.81 253.81 L90.01 253.89 L90.22 253.98 L90.42 254.06 L90.62 254.15 L90.82 254.23 L91.02 254.32 L91.22 254.40 L91.43 254.49 L91.63 254.57 L91.83 254.66 L92.03 254.74 L92.23 254.83 L92.43 254.91 L92.64 255.00 L92.84 255.08 L93.04 255.17 L93.24 255.25 L93.44 255.33 L93.64 255.42 L93.84 255.50 L94.05 255.59 L94.25 255.67 L94.45 255.75 L94.65 255.84 L94.85 255.92 L95.05 256.00 L95.26 256.08 L95.46 256.17 L95.66 256.25 L95.86 256.33 L96.06 256.41 L96.26 256.50 L96.47 256.58 L96.67 256.66 L96.87 256.74 L97.07 256.82 L97.27 256.90 L97.47 256.99 L97.68 257.07 L97.88 257.15 L98.08 257.23 L98.28 257.31 L98.48 257.39 L98.68 257.47 L98.89 257.55 L99.09 257.63 L99.29 257.71 L99.49 257.79 L99.69 257.87 L99.89 257.95 L100.10 258.03 L100.30 258.11 L100.50 258.19 L100.70 258.27 L100.90 258.34 L101.10 258.42 L101.31 258.50 L101.51 258.58 L101.71 258.66 L101.91 258.74 L102.11 258.81 L102.31 258.89 L102.51 258.97 L102.72 259.05 L102.92 259.12 L103.12 259.20 L103.32 259.28 L103.52 259.35 L103.72 259.43 L103.93 259.50 L104.13 259.58 L104.33 259.66 L104.53 259.73 L104.73 259.81 L104.93 259.88 L105.14 259.96 L105.34 260.03 L105.54 260.11 L105.74 260.18 L105.94 260.26 L106.14 260.33 L106.35 260.41 L106.55 260.48 L106.75 260.55 L106.95 260.63 L107.15 260.70 L107.35 260.78 L107.56 260.85 L107.76 260.92 L107.96 260.99 L108.16 261.07 L108.36 261.14 L108.56 261.21 L108.77 261.28 L108.97 261.36 L109.17 261.43 L109.37 261.50 L109.57 261.57 L109.77 261.64 L109.98 261.71 L110.18 261.78 L110.38 261.85 L110.58 261.93 L110.78 262.00 L110.98 262.07 L111.18 262.14 L111.39 262.21 L111.59 262.28 L111.79 262.35 L111.99 262.41 L112.19 262.48 L112.39 262.55 L112.60 262.62 L112.80 262.69 L113.00 262.76 L113.20 262.83 L113.40 262.90 L113.60 262.96 L113.81 263.03 L114.01 263.10 L114.21 263.17 L114.41 263.23 L114.61 263.30 L114.81 263.37 L115.02 263.44 L115.22 263.50 L115.42 263.57 L115.62 263.63 L115.82 263.70 L116.02 263.77 L116.23 263.83 L116.43 263.90 L116.63 263.96 L116.83 264.03 L117.03 264.09 L117.23 264.16 L117.44 264.22 L117.64 264.29 L117.84 264.35 L118.04 264.42 L118.24 264.48 L118.44 264.55 L118.65 264.61 L118.85 264.67 L119.05 264.74 L119.25 264.80 L119.45 264.86 L119.65 264.93 L119.85 264.99 L120.06 265.05 L120.26 265.11 L120.46 265.18 L120.66 265.24 L120.86 265.30 L121.06 265.36 L121.27 265.42 L121.47 265.48 L121.67 265.55 L121.87 265.61 L122.07 265.67 L122.27 265.73 L122.48 265.79 L122.68 265.85 L122.88 265.91 L123.08 265.97 L123.28 266.03 L123.48 266.09 L123.69 266.15 L123.89 266.21 L124.09 266.27 L124.29 266.33 L124.49 266.39 L124.69 266.45 L124.90 266.50 L125.10 266.56 L125.30 266.62 L125.50 266.68 L125.70 266.74 L125.90 266.79 L126.11 266.85 L126.31 266.91 L126.51 266.97 L126.71 267.02 L126.91 267.08 L127.11 267.14 L127.32 267.20 L127.52 267.25 L127.72 267.31 L127.92 267.37 L128.12 267.42 L128.32 267.48 L128.53 267.53 L128.73 267.59 L128.93 267.64 L129.13 267.70 L129.33 267.76 L129.53 267.81 L129.73 267.87 L129.94 267.92 L130.14 267.97 L130.34 268.03 L130.54 268.08 L130.74 268.14 L130.94 268.19 L131.15 268.25 L131.35 268.30 L131.55 268.35 L131.75 268.41 L131.95 268.46 L132.15 268.51 L132.36 268.57 L132.56 268.62 L132.76 268.67 L132.96 268.72 L133.16 268.78 L133.36 268.83 L133.57 268.88 L133.77 268.93 L133.97 268.98 L134.17 269.04 L134.37 269.09 L134.57 269.14 L134.78 269.19 L134.98 269.24 L135.18 269.29 L135.38 269.34 L135.58 269.39 L135.78 269.44 L135.99 269.49 L136.19 269.54 L136.39 269.59 L136.59 269.64 L136.79 269.69 L136.99 269.74 L137.20 269.79 L137.40 269.84 L137.60 269.89 L137.80 269.94 L138.00 269.99 L138.20 270.04 L138.40 270.09 L138.61 270.14 L138.81 270.19 L139.01 270.23 L139.21 270.28 L139.41 270.33 L139.61 270.38 L139.82 270.43 L140.02 270.47 L140.22 270.52 L140.42 270.57 L140.62 270.61 L140.82 270.66 L141.03 270.71 L141.23 270.76 L141.43 270.80 L141.63 270.85 L141.83 270.90 L142.03 270.94 L142.24 270.99 L142.44 271.03 L142.64 271.08 L142.84 271.13 L143.04 271.17 L143.24 271.22 L143.45 271.26 L143.65 271.31 L143.85 271.35 L144.05 271.40 L144.25 271.44 L144.45 271.49 L144.66 271.53 L144.86 271.58 L145.06 271.62 L145.26 271.66 L145.46 271.71 L145.66 271.75 L145.87 271.80 L146.07 271.84 L146.27 271.88 L146.47 271.93 L146.67 271.97 L146.87 272.01 L147.07 272.06 L147.28 272.10 L147.48 272.14 L147.68 272.19 L147.88 272.23 L148.08 272.27 L148.28 272.31 L148.49 272.36 L148.69 272.40 L148.89 272.44 L149.09 272.48 L149.29 272.52 L149.49 272.57 L149.70 272.61 L149.90 272.65 L150.10 272.69 L150.30 272.73 L150.50 272.77 L150.70 272.81 L150.91 272.85 L151.11 272.89 L151.31 272.93 L151.51 272.98 L151.71 273.02 L151.91 273.06 L152.12 273.10 L152.32 273.14 L152.52 273.18 L152.72 273.22 L152.92 273.26 L153.12 273.30 L153.33 273.33 L153.53 273.37 L153.73 273.41 L153.93 273.45 L154.13 273.49 L154.33 273.53 L154.54 273.57 L154.74 273.61 L154.94 273.65 L155.14 273.69 L155.34 273.72 L155.54 273.76 L155.74 273.80 L155.95 273.84 L156.15 273.88 L156.35 273.91 L156.55 273.95 L156.75 273.99 L156.95 274.03 L157.16 274.06 L157.36 274.10 L157.56 274.14 L157.76 274.18 L157.96 274.21 L158.16 274.25 L158.37 274.29 L158.57 274.32 L158.77 274.36 L158.97 274.40 L159.17 274.43 L159.37 274.47 L159.58 274.50 L159.78 274.54 L159.98 274.58 L160.18 274.61 L160.38 274.65 L160.58 274.68 L160.79 274.72 L160.99 274.75 L161.19 274.79 L161.39 274.83 L161.59 274.86 L161.79 274.90 L162.00 274.93 L162.20 274.97 L162.40 275.00 L163.88 275.25"/>
</g>
<g fill="none">
<path stroke="#666" stroke-width="1.1" d="M22 274.95 H412.3"/>
<path stroke="#666" stroke-width="1.1" d="M30.35 274.95 V33"/>
<path stroke="#000" stroke-opacity="0.6" stroke-width="0.75" d="M30.40 274.95 V270.05 M49.10 274.95 V271.95 M67.81 274.95 V271.95 M86.51 274.95 V271.95 M105.22 274.95 V270.05 M123.92 274.95 V271.95 M142.63 274.95 V271.95 M161.34 274.95 V271.95 M180.04 274.95 V270.05 M198.74 274.95 V271.95 M217.45 274.95 V271.95 M236.16 274.95 V271.95 M254.86 274.95 V270.05 M273.56 274.95 V271.95 M292.27 274.95 V271.95 M310.97 274.95 V271.95 M329.68 274.95 V270.05 M348.38 274.95 V271.95 M367.09 274.95 V271.95 M385.79 274.95 V271.95 M404.50 274.95 V270.05 M30.35 268.10 H32.85 M30.35 261.20 H32.85 M30.35 254.30 H32.85 M30.35 247.40 H32.85 M30.35 240.50 H34.95 M30.35 233.60 H32.85 M30.35 226.70 H32.85 M30.35 219.80 H32.85 M30.35 212.90 H32.85 M30.35 206.00 H34.95 M30.35 199.10 H32.85 M30.35 192.20 H32.85 M30.35 185.30 H32.85 M30.35 178.40 H32.85 M30.35 171.50 H34.95 M30.35 164.60 H32.85 M30.35 157.70 H32.85 M30.35 150.80 H32.85 M30.35 143.90 H32.85 M30.35 137.00 H34.95 M30.35 130.10 H32.85 M30.35 123.20 H32.85 M30.35 116.30 H32.85 M30.35 109.40 H32.85 M30.35 102.50 H34.95 M30.35 95.60 H32.85 M30.35 88.70 H32.85 M30.35 81.80 H32.85 M30.35 74.90 H32.85 M30.35 68.00 H34.95 M30.35 61.10 H32.85 M30.35 54.20 H32.85 M30.35 47.30 H32.85 M30.35 40.40 H32.85 M30.35 33.50 H34.95"/>
</g>
<g font-size="12.5px" style="filter:grayscale(1)"><text x="30.4" y="290.7" text-anchor="middle">0</text><text x="105.3" y="290.7" text-anchor="middle">2</text><text x="180.1" y="290.7" text-anchor="middle">4</text><text x="254.9" y="290.7" text-anchor="middle">6</text><text x="329.7" y="290.7" text-anchor="middle">8</text><text x="404.5" y="290.7" text-anchor="middle">10</text><text x="24.9" y="244.6" text-anchor="end">0.01</text><text x="24.9" y="210.1" text-anchor="end">0.02</text><text x="24.9" y="175.6" text-anchor="end">0.03</text><text x="24.9" y="141.1" text-anchor="end">0.04</text><text x="24.9" y="106.6" text-anchor="end">0.05</text><text x="24.9" y="72.1" text-anchor="end">0.06</text><text x="24.9" y="37.6" text-anchor="end">0.07</text></g>
<g font-style="italic" style="filter:grayscale(1)">
<text x="0.4" y="16" font-size="13.5px">G</text>
<text x="10.6" y="10" font-size="9px" font-style="normal">0</text>
<text x="12.9" y="19" font-size="9px">B</text>
<text x="17.9" y="20.9" font-size="6.5px" font-style="normal">0</text>
<text x="24.1" y="19" font-size="9px">B</text>
<text x="29.7" y="20.9" font-size="6.5px" font-style="normal">2</text>
<text x="36" y="21.3" font-size="6.5px">j</text>
<text x="39.6" y="15.9" font-size="13.7px" font-style="normal">(</text>
<text transform="translate(44 16.2) scale(1 1.1)" font-size="13px">q</text>
<text x="50.9" y="9.9" font-size="9px" font-style="normal">2</text>
<text x="56" y="15.9" font-size="13.7px" font-style="normal">)</text>
<text transform="translate(423.9 280.8) scale(1 1.15)" font-size="13px">q</text>
<text x="430.2" y="275.2" font-size="9px" font-style="normal">2</text>
</g>
</svg>
</body></html>
